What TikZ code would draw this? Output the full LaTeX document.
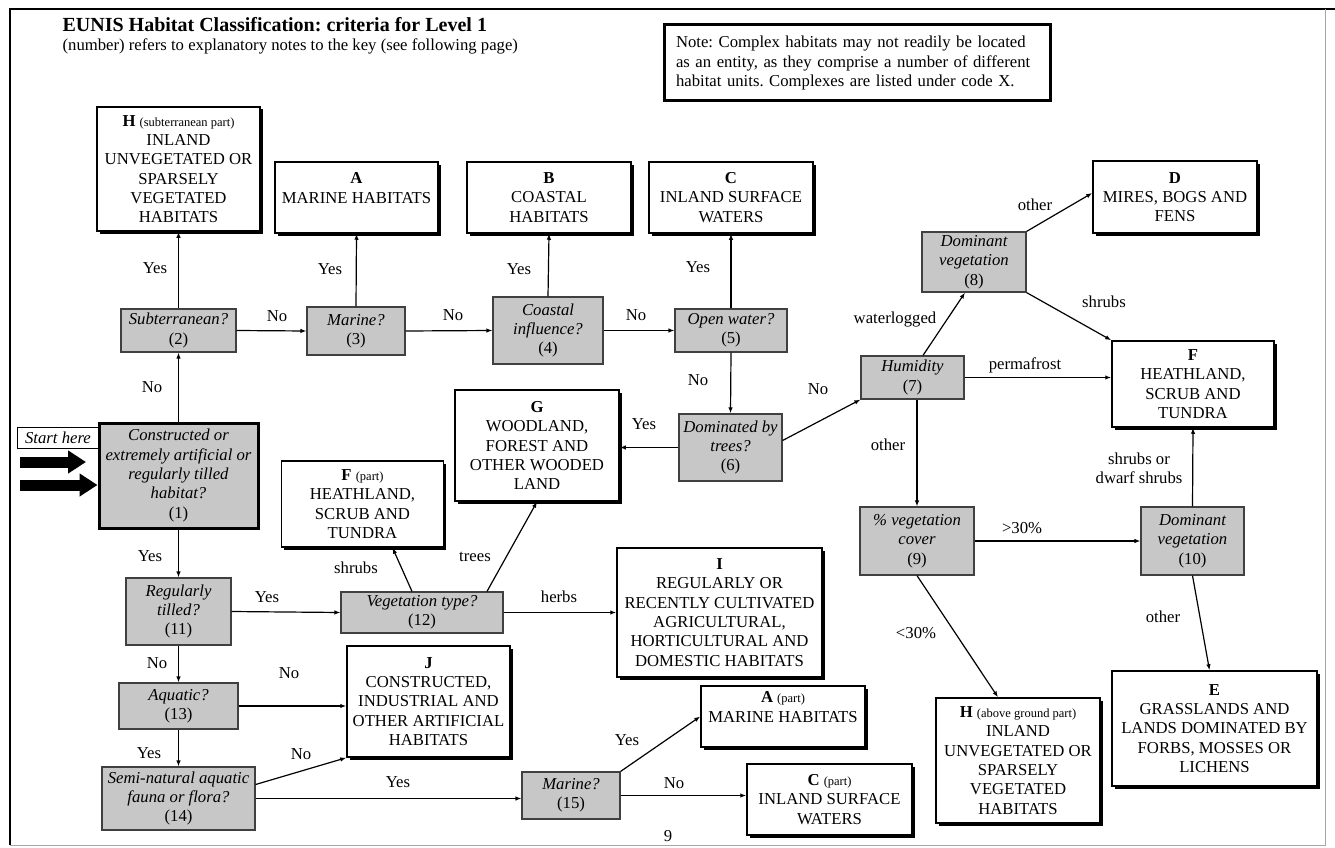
\documentclass[tikz,border=0pt]{standalone}
\usepackage{fontspec}
\setmainfont{Liberation Serif}
\usepackage{tikz}
\usetikzlibrary{arrows.meta,shadows}
\frenchspacing

\newcommand{\habfont}{\fontsize{16.7}{19.3}\selectfont}
\newcommand{\habpart}[1]{{\fontsize{12.5}{14}\selectfont #1}}

\begin{document}
\begin{tikzpicture}[x=1pt,y=-1pt,line width=1.2pt,>={Latex[length=6pt,width=4.5pt]},
    habbox/.style={draw=black,line width=1.5pt,fill=white,align=center,inner xsep=1pt,font=\habfont,
      drop shadow={shadow xshift=2.5pt,shadow yshift=-2.5pt,opacity=1,fill=black}},
    qbox/.style={draw=black!75,line width=1.2pt,fill=black!22,align=center,inner xsep=2pt,font=\habfont\itshape},
    lab/.style={inner sep=0pt,font=\habfont},
    fat/.style={line width=11pt,-{Triangle[length=18pt,width=22pt]}}]

    \useasboundingbox (0,0) rectangle (1335,848);
    \draw [line width=1.5pt] (10,845) -- (10,9) -- (1335,9);
    \draw [black!35,line width=1pt] (1325,9) -- (1325,845) -- (10,845);

    \node (title) [anchor=base west,inner sep=0pt,font=\fontsize{20}{24}\selectfont\bfseries] at (62,32) {EUNIS Habitat Classification: criteria for Level 1};
    \node (subtitle) [anchor=base west,inner sep=0pt,font=\habfont] at (62,51) {(number) refers to explanatory notes to the key (see following page)};
    \node (note) [draw=black,line width=3pt,text width=362pt,inner xsep=12pt,minimum height=76pt,align=left,font=\habfont] at (857,63)
      {Note: Complex habitats may not readily be located\\as an entity, as they comprise a number of different\\habitat units. Complexes are listed under code X.};

    % habitat boxes
    \node (Hsub) [habbox,minimum width=163pt,minimum height=124pt] at (178.5,169) {\textbf{H} \habpart{(subterranean part)}\\INLAND\\UNVEGETATED OR\\SPARSELY\\VEGETATED\\HABITATS};
    \node (hA)  [habbox,minimum width=163pt,minimum height=71pt] at (356.5,197.5) {\textbf{A}\\MARINE HABITATS\\\mbox{}};
    \node (hB)  [habbox,minimum width=164pt,minimum height=71pt] at (549,197.5) {\textbf{B}\\COASTAL\\HABITATS};
    \node (hC)  [habbox,minimum width=164pt,minimum height=71pt] at (731,197.5) {\textbf{C}\\INLAND SURFACE\\WATERS};
    \node (hD)  [habbox,minimum width=164pt,minimum height=72pt] at (1175,197) {\textbf{D}\\MIRES, BOGS AND\\FENS};
    \node (hG)  [habbox,minimum width=164pt,minimum height=111pt] at (537,445.5) {\textbf{G}\\WOODLAND,\\FOREST AND\\OTHER WOODED\\LAND};
    \node (hFp) [habbox,minimum width=162pt,minimum height=86pt] at (362.5,504) {\textbf{F} \habpart{(part)}\\HEATHLAND,\\SCRUB AND\\TUNDRA};
    \node (hF)  [habbox,minimum width=162pt,minimum height=86pt] at (1193,384) {\textbf{F}\\HEATHLAND,\\SCRUB AND\\TUNDRA};
    \node (hI)  [habbox,minimum width=205pt,minimum height=129pt] at (719.5,612.5) {\textbf{I}\\REGULARLY OR\\RECENTLY CULTIVATED\\AGRICULTURAL,\\HORTICULTURAL AND\\DOMESTIC HABITATS};
    \node (hJ)  [habbox,minimum width=163pt,minimum height=111pt] at (428.5,701.5) {\textbf{J}\\CONSTRUCTED,\\INDUSTRIAL AND\\OTHER ARTIFICIAL\\HABITATS};
    \node (hAp) [habbox,minimum width=164pt,minimum height=61pt] at (783,716.5) {\textbf{A} \habpart{(part)}\\MARINE HABITATS\\\mbox{}};
    \node (hCp) [habbox,minimum width=165pt,minimum height=71pt] at (829.5,799.5) {\textbf{C} \habpart{(part)}\\INLAND SURFACE\\WATERS};
    \node (hHa) [habbox,minimum width=164pt,minimum height=125pt] at (1018,760.5) {\textbf{H} \habpart{(above ground part)}\\INLAND\\UNVEGETATED OR\\SPARSELY\\VEGETATED\\HABITATS};
    \node (hE)  [habbox,minimum width=205pt,minimum height=115pt] at (1214.5,728.5) {\textbf{E}\\GRASSLANDS AND\\LANDS DOMINATED BY\\FORBS, MOSSES OR\\LICHENS};

    % questions
    \node (q1)  [qbox,draw=black,line width=3pt,minimum width=159pt,minimum height=105pt] at (178.5,475.5) {Constructed or\\extremely artificial or\\regularly tilled\\habitat?\\\textup{(1)}};
    \node (q2)  [qbox,minimum width=115pt,minimum height=43pt] at (178.5,330.5) {Subterranean?\\\textup{(2)}};
    \node (q3)  [qbox,minimum width=98pt,minimum height=48pt] at (356,331) {Marine?\\\textup{(3)}};
    \node (q4)  [qbox,minimum width=110pt,minimum height=67pt] at (548,330.5) {Coastal\\influence?\\\textup{(4)}};
    \node (q5)  [qbox,minimum width=112pt,minimum height=43pt] at (731,330.5) {Open water?\\\textup{(5)}};
    \node (q6)  [qbox,minimum width=103pt,minimum height=67pt] at (730.5,447.5) {Dominated by\\trees?\\\textup{(6)}};
    \node (q7)  [qbox,minimum width=103pt,minimum height=43pt] at (912.5,377.5) {Humidity\\\textup{(7)}};
    \node (q8)  [qbox,minimum width=104pt,minimum height=60pt] at (974,262) {Dominant\\vegetation\\\textup{(8)}};
    \node (q9)  [qbox,minimum width=114pt,minimum height=68pt] at (917,541) {\% vegetation\\cover\\\textup{(9)}};
    \node (q10) [qbox,minimum width=103pt,minimum height=68pt] at (1192.5,541) {Dominant\\vegetation\\\textup{(10)}};
    \node (q11) [qbox,minimum width=105pt,minimum height=67pt] at (178.5,611.5) {Regularly\\tilled?\\\textup{(11)}};
    \node (q12) [qbox,minimum width=162pt,minimum height=41pt] at (422,612.5) {Vegetation type?\\\textup{(12)}};
    \node (q13) [qbox,minimum width=119pt,minimum height=46pt] at (178.5,706) {Aquatic?\\\textup{(13)}};
    \node (q14) [qbox,minimum width=153pt,minimum height=63pt] at (178.5,798.5) {Semi-natural aquatic\\fauna or flora?\\\textup{(14)}};
    \node (q15) [qbox,minimum width=98pt,minimum height=47pt] at (571,795.5) {Marine?\\\textup{(15)}};

    \node (start) [draw=black,line width=1pt,minimum width=82pt,minimum height=21pt,inner sep=0pt,font=\habfont\itshape] at (58,437.5) {Start here};
    \coordinate (in1) at (20,462);
    \coordinate (in1end) at (86,462);
    \coordinate (in2) at (20,485);
    \draw [fat] (in1) -- (in1end);
    \draw [fat] (in2) -- (in2 -| q1.west);

    % connectors
    \draw [->] (q1.north) -- (q2.south);
    \draw [->] (q2.north) -- (Hsub.south);
    \draw [->] (q2.east) -- (q3.west);
    \draw [->] (q3.north) -- (hA.south);
    \draw [->] (q3.east) -- (q4.west);
    \draw [->] (q4.north) -- (hB.south);
    \draw [->] (q4.east) -- (q5.west);
    \draw [->] (q5.north) -- (hC.south);
    \draw [->] (q5.south) -- (q6.north);
    \draw [->] (q6.west) -- (q6.west -| hG.east);
    \draw [->] ([yshift=7pt]q6.east) -- (q7.south west);
    \draw [->] ([xshift=10.5pt]q7.north) -- ([xshift=-9pt]q8.south);
    \draw [->] (q8.north east) -- ([yshift=4pt]hD.west);
    \draw [->] (q8.south east) -- (hF.north west);
    \draw [->] (q7.east) -- (q7.east -| hF.west);
    \draw [->] (q9.north |- q7.south) -- (q9.north);
    \draw [->] (q9.east) -- (q10.west);
    \draw [->] (q10.north) -- (hF.south);
    \draw [->] (q10.south) -- ([xshift=-5pt]hE.north);
    \draw [->] (q9.south) -- ([xshift=-20pt]hHa.north);
    \draw [->] (q1.south) -- (q11.north);
    \draw [->] (q11.east) -- (q12.west);
    \draw [->] ([xshift=-10pt]q12.north) -- ([xshift=30pt]hFp.south);
    \draw [->] ([xshift=65pt]q12.north) -- (hG.south);
    \draw [->] (q12.east) -- (q12.east -| hI.west);
    \draw [->] (q11.south) -- (q13.north);
    \draw [->] (q13.east) -- (q13.east -| hJ.west);
    \draw [->] (q13.south) -- (q14.north);
    \draw [->] ([yshift=14pt]q14.east) -- (hJ.south west);
    \draw [->] (q14.east) -- (q14.east -| q15.west);
    \draw [->] (q15.north east) -- (hAp.west);
    \draw [->] (q15.east) -- (q15.east -| hCp.west);

    % labels
    \node (l-no1)   [lab] at (152,387) {No};
    \node (l-yes1)  [lab] at (155,268) {Yes};
    \node (l-no2)   [lab] at (277,316) {No};
    \node (l-yes2)  [lab] at (330,269) {Yes};
    \node (l-no3)   [lab] at (453,315) {No};
    \node (l-yes3)  [lab] at (519,269) {Yes};
    \node (l-no4)   [lab] at (636,315) {No};
    \node (l-yes4)  [lab] at (698,267) {Yes};
    \node (l-no5)   [lab] at (698,380) {No};
    \node (l-yes5)  [lab] at (644,424) {Yes};
    \node (l-no6)   [lab] at (818,389) {No};
    \node (l-wet)   [lab] at (895,320) {waterlogged};
    \node (l-oth1)  [lab] at (1035,205) {other};
    \node (l-shr1)  [lab] at (1104,302) {shrubs};
    \node (l-perm)  [lab] at (1025,365) {permafrost};
    \node (l-oth2)  [lab] at (888,445) {other};
    \node (l-gt)    [lab] at (1022,528) {>30\%};
    \node (l-shr2)  [lab,align=center] at (1139,468) {shrubs or\\dwarf shrubs};
    \node (l-oth3)  [lab] at (1163,617) {other};
    \node (l-lt)    [lab] at (916,633) {<30\%};
    \node (l-yes6)  [lab] at (150,556) {Yes};
    \node (l-yes7)  [lab] at (267,597) {Yes};
    \node (l-shr3)  [lab] at (356,568) {shrubs};
    \node (l-trees) [lab] at (475,557) {trees};
    \node (l-herbs) [lab] at (559,597) {herbs};
    \node (l-no7)   [lab] at (157,663) {No};
    \node (l-no8)   [lab] at (289,673) {No};
    \node (l-yes8)  [lab] at (149,753) {Yes};
    \node (l-no9)   [lab] at (301,754) {No};
    \node (l-yes9)  [lab] at (398,782) {Yes};
    \node (l-yes10) [lab] at (627,740) {Yes};
    \node (l-no10)  [lab] at (674,783) {No};

    \node (pageno) [lab] at (668,836) {9};

\end{tikzpicture}
\end{document}
